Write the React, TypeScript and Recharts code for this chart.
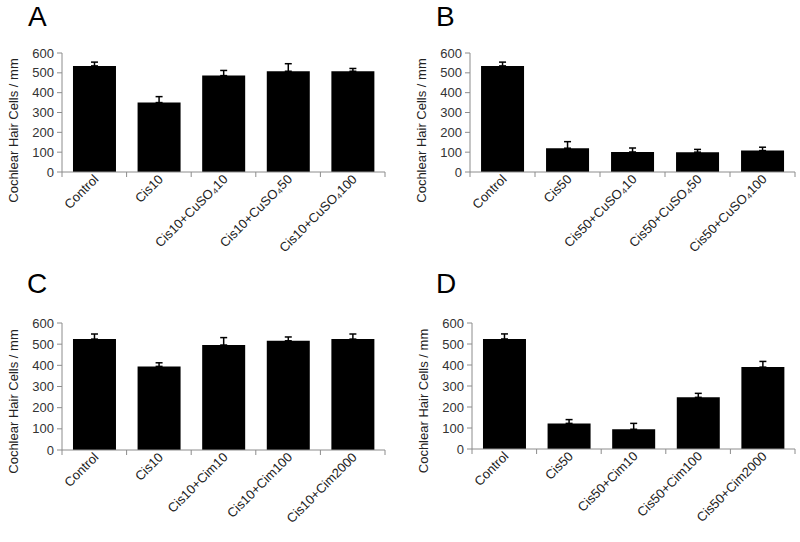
import { Bar, BarChart, ErrorBar, XAxis, YAxis } from "recharts";

const labelsA = ["Control", "Cis10", "Cis10+CuSO₄10", "Cis10+CuSO₄50", "Cis10+CuSO₄100"];
const meansA = [535, 350, 486, 508, 508];
const errsA = [19, 30, 26, 38, 14];

const labelsB = ["Control", "Cis50", "Cis50+CuSO₄10", "Cis50+CuSO₄50", "Cis50+CuSO₄100"];
const meansB = [535, 120, 101, 100, 108];
const errsB = [19, 33, 20, 14, 17];

const labelsC = ["Control", "Cis10", "Cis10+Cim10", "Cis10+Cim100", "Cis10+Cim2000"];
const meansC = [524, 395, 496, 516, 524];
const errsC = [24, 17, 35, 18, 24];

const labelsD = ["Control", "Cis50", "Cis50+Cim10", "Cis50+Cim100", "Cis50+Cim2000"];
const meansD = [524, 122, 94, 246, 390];
const errsD = [24, 18, 28, 19, 27];

const yTicks = [0, 100, 200, 300, 400, 500, 600];
const yTitle = "Cochlear Hair Cells / mm";

const FONT = "'Liberation Sans', Arial, sans-serif";
const AXIS = "#8c8c8c";

function XTick(props: any) {
  const { x, y, payload, width, visibleTicksCount, index } = props;
  const band = width / visibleTicksCount;
  const tx = x + 5;
  const ty = y + 8;
  return (
    <g>
      <line x1={x - band / 2} y1={y} x2={x - band / 2} y2={y + 5} stroke={AXIS} />
      {index === visibleTicksCount - 1 && (
        <line x1={x + band / 2} y1={y} x2={x + band / 2} y2={y + 5} stroke={AXIS} />
      )}
      <text
        x={tx}
        y={ty}
        textAnchor="end"
        transform={`rotate(-45, ${tx}, ${ty})`}
        fontSize={13}
        fontFamily={FONT}
        fill="#222"
      >
        {payload.value}
      </text>
    </g>
  );
}

function YTitle(props: any) {
  const { viewBox, shift } = props;
  const x = viewBox.x + 18;
  const y = viewBox.y + viewBox.height / 2 + shift;
  return (
    <text
      x={x}
      y={y}
      textAnchor="middle"
      transform={`rotate(-90, ${x}, ${y})`}
      fontSize={13}
      fontFamily={FONT}
      fill="#222"
    >
      {yTitle}
    </text>
  );
}

type PanelProps = {
  letter: string;
  labels: string[];
  means: number[];
  errs: number[];
  left: number;
  top: number;
  height: number;
  margin: { top: number; right: number; left: number; bottom: number };
  shift: number;
  letterX: number;
  letterY: number;
};

function Panel({ letter, labels, means, errs, left, top, height, margin, shift, letterX, letterY }: PanelProps) {
  const data = labels.map((name, i) => ({ name, value: means[i], err: [0, errs[i]] }));
  return (
    <div style={{ position: "absolute", left, top, width: 400, height }}>
      <BarChart width={400} height={height} data={data} margin={margin} barCategoryGap="17%">
        <XAxis
          dataKey="name"
          interval={0}
          height={30}
          tickLine={false}
          tickSize={0}
          tickMargin={0}
          axisLine={{ stroke: AXIS }}
          tick={<XTick />}
        />
        <YAxis
          width={62}
          domain={[0, 600]}
          ticks={yTicks}
          interval={0}
          tickSize={5}
          tickMargin={3}
          axisLine={{ stroke: AXIS }}
          tickLine={{ stroke: AXIS }}
          tick={{ fontSize: 13, fontFamily: FONT, fill: "#333" }}
          label={(p: any) => <YTitle {...p} shift={shift} />}
        />
        <Bar dataKey="value" fill="#000" isAnimationActive={false}>
          <ErrorBar dataKey="err" direction="y" width={3.5} stroke="#000" strokeWidth={1.5} />
        </Bar>
      </BarChart>
      <div
        style={{
          position: "absolute",
          left: letterX,
          top: letterY,
          fontFamily: FONT,
          fontSize: 28,
          lineHeight: "normal",
          color: "#000",
        }}
      >
        {letter}
      </div>
    </div>
  );
}

export default function App() {
  return (
    <div style={{ position: "absolute", left: 0, top: 0, width: 800, height: 542, background: "#fff" }}>
      <Panel
        letter="A"
        labels={labelsA}
        means={meansA}
        errs={errsA}
        left={0}
        top={0}
        height={270}
        margin={{ top: 53, right: 15, left: 0, bottom: 68 }}
        shift={18}
        letterX={28}
        letterY={1}
      />
      <Panel
        letter="B"
        labels={labelsB}
        means={meansB}
        errs={errsB}
        left={400}
        top={0}
        height={270}
        margin={{ top: 53, right: 5, left: 8, bottom: 68 }}
        shift={18}
        letterX={36}
        letterY={1}
      />
      <Panel
        letter="C"
        labels={labelsC}
        means={meansC}
        errs={errsC}
        left={0}
        top={270}
        height={272}
        margin={{ top: 53, right: 15, left: 0, bottom: 62 }}
        shift={15}
        letterX={27}
        letterY={-2}
      />
      <Panel
        letter="D"
        labels={labelsD}
        means={meansD}
        errs={errsD}
        left={400}
        top={270}
        height={272}
        margin={{ top: 53, right: 5, left: 10, bottom: 63 }}
        shift={15}
        letterX={36}
        letterY={-2}
      />
    </div>
  );
}
